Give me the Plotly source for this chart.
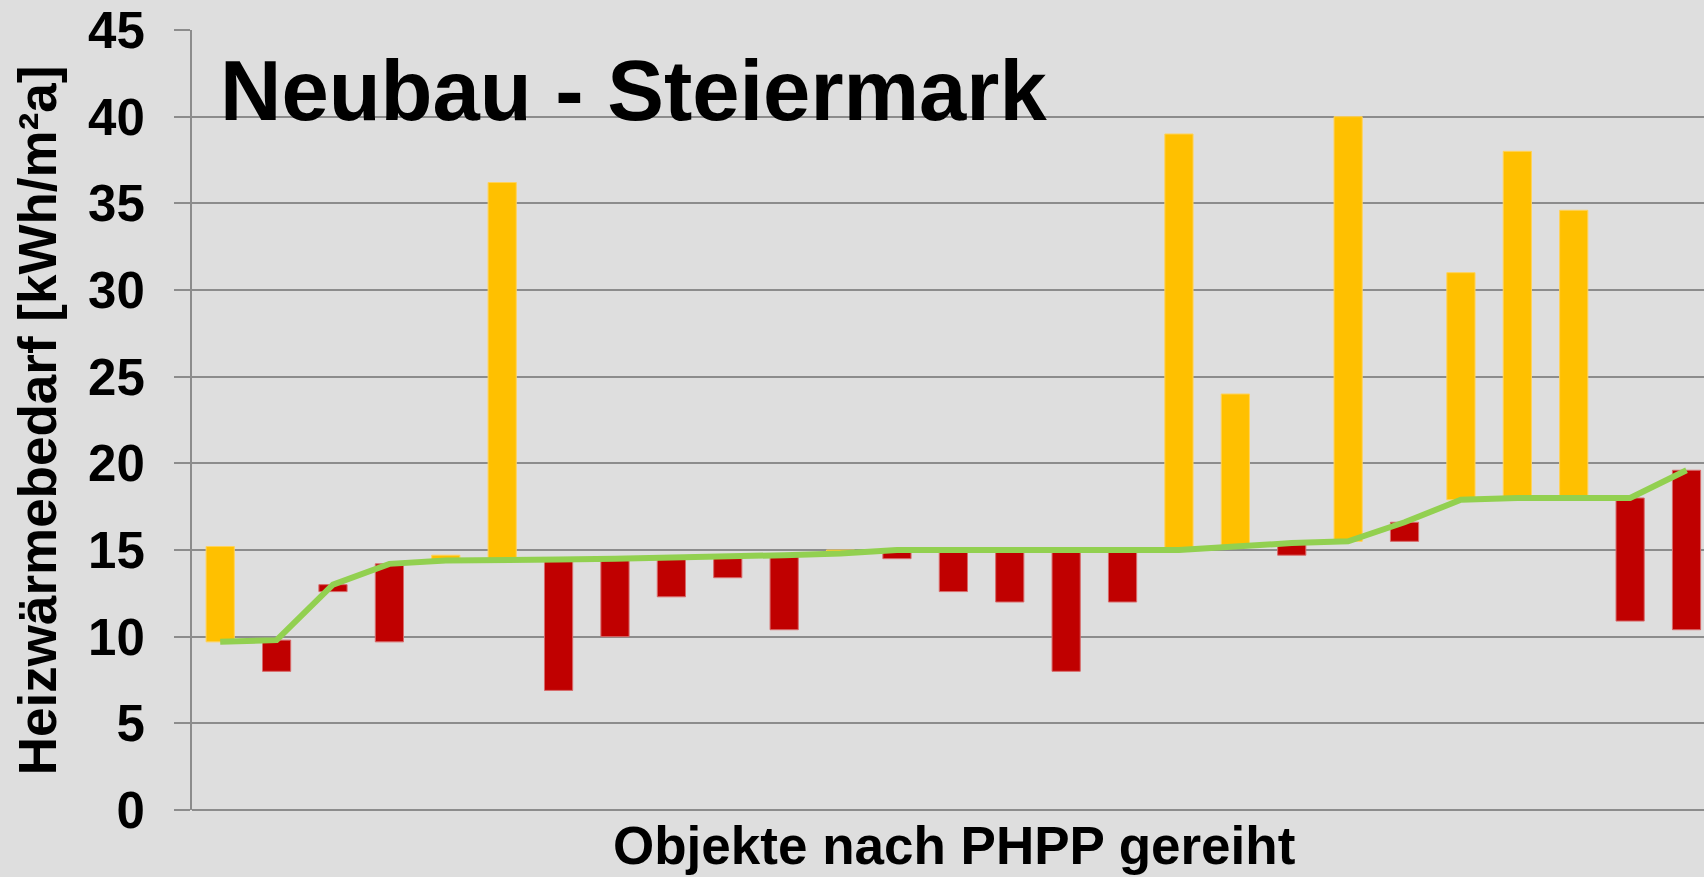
import plotly.graph_objects as go

# Data
objects = list(range(27))
phpp = [9.7, 9.8, 13.0, 14.2, 14.4, 14.4, 14.45, 14.5, 14.55, 14.65, 14.7, 14.8,
        15.0, 15.0, 15.0, 15.0, 15.0, 15.0, 15.2, 15.4, 15.5, 16.6, 17.9, 18.0,
        18.0, 18.0, 19.6]
measured = [15.2, 8.0, 12.6, 9.7, 14.7, 36.2, 6.9, 10.0, 12.3, 13.4, 10.4, 15.0,
            14.5, 12.6, 12.0, 8.0, 12.0, 39.0, 24.0, 14.7, 40.0, 15.5, 31.0, 38.0,
            34.6, 10.9, 10.4]
y_ticks = [0, 5, 10, 15, 20, 25, 30, 35, 40, 45]

title_text = "Neubau - Steiermark"
y_title = "Heizwärmebedarf [kWh/m²a]"
x_title = "Objekte nach PHPP gereiht"

YELLOW = "#FFC000"
RED = "#C00000"
GREEN = "#92D050"
BG = "#DEDEDE"
GRID = "#8C8C8C"
FONT = "Liberation Sans, Arial, sans-serif"

W, H = 1704, 877
L, R, T, B = 192, 0, 30, 67
plot_w = W - L - R
plot_h = H - T - B

diff = [m - p for m, p in zip(measured, phpp)]
colors = [YELLOW if d >= 0 else RED for d in diff]
edge = ["#FFD25A" if d >= 0 else "#D86A6A" for d in diff]

fig = go.Figure()
fig.add_trace(go.Bar(
    x=objects, y=diff, base=phpp, width=0.5,
    marker=dict(color=colors, line=dict(color=edge, width=1)),
    showlegend=False, hoverinfo="skip",
))
fig.add_trace(go.Scatter(
    x=objects, y=phpp, mode="lines",
    line=dict(color=GREEN, width=6),
    showlegend=False, hoverinfo="skip",
))

def px_x(px):
    return (px - L) / plot_w

def px_y(py):
    return (H - B - py) / plot_h

fig.update_layout(
    width=W, height=H,
    margin=dict(l=L, r=R, t=T, b=B, autoexpand=False),
    paper_bgcolor=BG, plot_bgcolor=BG,
    font=dict(family=FONT, color="black"),
    bargap=0.5,
    xaxis=dict(range=[-0.5, 26.31], showticklabels=False, ticks="",
               showgrid=False, zeroline=False, showline=False, fixedrange=True),
    yaxis=dict(range=[0, 45], tickvals=y_ticks, ticktext=[str(v) for v in y_ticks],
               showgrid=True, gridcolor=GRID, gridwidth=1.6,
               zeroline=True, zerolinecolor=GRID, zerolinewidth=1.6,
               showline=True, linecolor=GRID, linewidth=2,
               ticks="outside", ticklen=16, tickcolor=GRID, tickwidth=1.6,
               ticklabelstandoff=19,
               tickfont=dict(family=FONT, size=51, color="black", weight="bold")),
    annotations=[
        dict(text=title_text, xref="paper", yref="paper",
             x=px_x(218), y=px_y(41), xanchor="left", yanchor="top",
             showarrow=False,
             font=dict(family=FONT, size=85, color="black", weight="bold")),
        dict(text=y_title, xref="paper", yref="paper",
             x=px_x(37.3), y=px_y(420), xanchor="center", yanchor="middle",
             textangle=-90, showarrow=False,
             font=dict(family=FONT, size=53, color="black", weight="bold")),
        dict(text=x_title, xref="paper", yref="paper",
             x=px_x(954), y=px_y(845.5), xanchor="center", yanchor="middle",
             showarrow=False,
             font=dict(family=FONT, size=53, color="black", weight="bold")),
    ],
)

fig.write_html(
    "out.html",
    config={"displayModeBar": False},
    post_script=("document.body.style.margin='0';"
                 "document.body.style.background='%s';" % BG),
)
